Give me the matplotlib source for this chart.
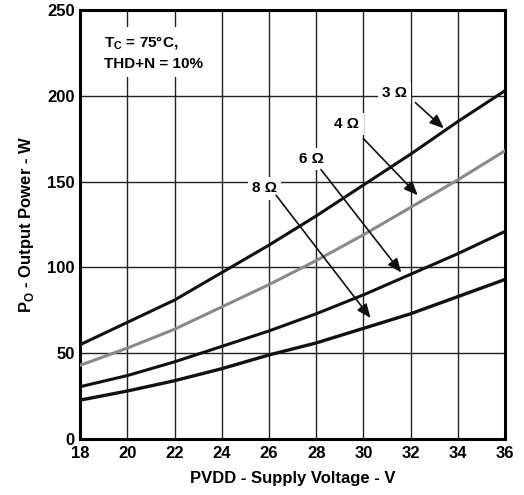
import matplotlib.pyplot as plt
import numpy as np

plt.rcParams['font.family'] = ['Liberation Sans Narrow', 'Liberation Sans', 'DejaVu Sans']
plt.rcParams['font.weight'] = 'bold'

volts = [18, 20, 22, 24, 26, 28, 30, 32, 34, 36]
p_3ohm = [55, 68, 81, 97, 113, 130, 148, 166, 185, 203]
p_4ohm = [43, 53, 64, 77, 90, 104, 119, 135, 151, 168]
p_6ohm = [30.5, 37, 45, 54, 63, 73, 84, 96, 108, 121]
p_8ohm = [22.7, 28, 34, 41, 49, 56, 64.5, 73, 83, 93]

# label text, label position, arrow start, arrow end
labels = [
    ("3 \u03a9", (31.3, 201.5), (32.2, 196), (33.4, 181)),
    ("4 \u03a9", (29.3, 183.5), (30.0, 175), (32.3, 142)),
    ("6 \u03a9", (27.8, 163), (28.2, 157), (31.6, 97)),
    ("8 \u03a9", (25.8, 146), (26.3, 142), (30.3, 70.5)),
]

fig = plt.figure(figsize=(5.24, 4.95), dpi=100)
ax = fig.add_axes([0.153, 0.113, 0.811, 0.867])

ax.plot(volts, p_3ohm, color="#111111", lw=2.2, zorder=3)
ax.plot(volts, p_4ohm, color="#8a8a8a", lw=2.2, zorder=3)
ax.plot(volts, p_6ohm, color="#111111", lw=2.2, zorder=3)
ax.plot(volts, p_8ohm, color="#111111", lw=2.4, zorder=3)

for txt, pos, a0, a1 in labels:
    ax.text(pos[0], pos[1], txt, ha="center", va="center", fontsize=11,
            fontweight="bold", zorder=4,
            bbox=dict(facecolor="white", edgecolor="none", pad=3))
    ax.annotate("", xy=a1, xytext=a0, zorder=4,
                arrowprops=dict(arrowstyle="-|>,head_length=0.6,head_width=0.25",
                                color="#111111", lw=1.2,
                                mutation_scale=14, shrinkA=0, shrinkB=0))

ax.text(19.0, 225, "T$_\\mathregular{C}$ = 75\u00b0C,\nTHD+N = 10%", ha="left", va="center",
        fontsize=11, fontweight="bold", linespacing=1.5, zorder=4,
        bbox=dict(facecolor="white", edgecolor="none", pad=4))

ax.set_xlim(18, 36)
ax.set_ylim(0, 250)
ax.set_xticks(np.arange(18, 37, 2))
ax.set_yticks([0, 50, 100, 150, 200, 250])
ax.grid(True, color="#222222", lw=1.0)
ax.set_axisbelow(True)
ax.tick_params(axis="x", length=0, labelsize=12, pad=5)
ax.tick_params(axis="y", length=0, labelsize=12, pad=4)
for lab in ax.get_xticklabels() + ax.get_yticklabels():
    lab.set_fontweight("bold")
for s in ax.spines.values():
    s.set_linewidth(2.2)

ax.set_xlabel("PVDD - Supply Voltage - V", fontsize=12, fontweight="bold", labelpad=7)
ax.set_ylabel("P$_\\mathregular{O}$ - Output Power - W", fontsize=12, fontweight="bold", labelpad=8)

fig.savefig("out.png", dpi=100)
